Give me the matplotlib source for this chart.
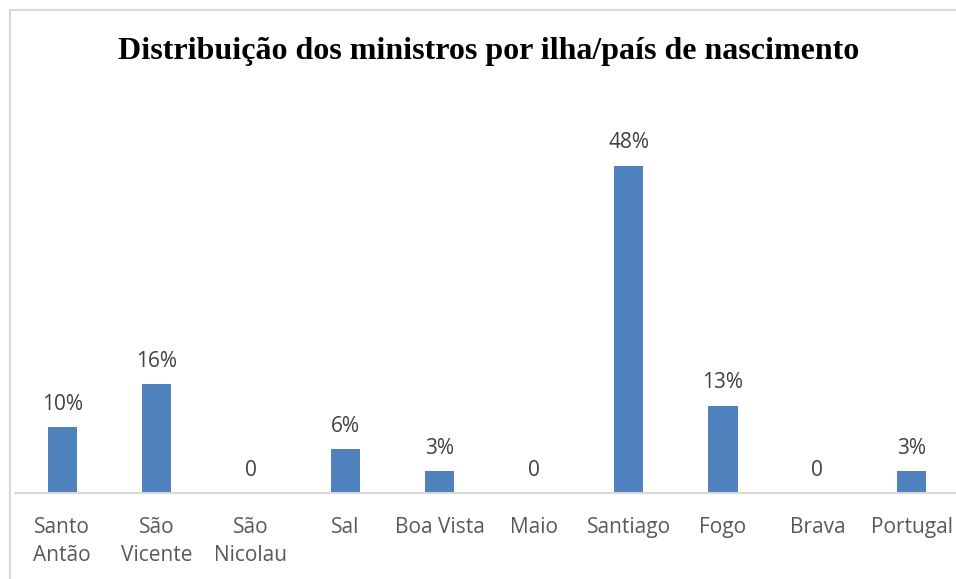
import matplotlib
matplotlib.use("Agg")
import matplotlib.pyplot as plt
from matplotlib.patches import Rectangle

categories = ["Santo\nAntão", "São\nVicente", "São\nNicolau", "Sal", "Boa Vista",
              "Maio", "Santiago", "Fogo", "Brava", "Portugal"]
values = [9.7, 16.1, 0, 6.5, 3.2, 0, 48.4, 12.9, 0, 3.2]
value_labels = ["10%", "16%", "0", "6%", "3%", "0", "48%", "13%", "0", "3%"]
title = "Distribuição dos ministros por ilha/país de nascimento"

W, H = 956, 579
fig = plt.figure(figsize=(W / 100, H / 100), dpi=100)
fig.patch.set_facecolor("white")

# outer border (cropped at right/bottom)
fig.patches.append(Rectangle((10 / W, -0.05), 1.2, 1 - 10 / H + 0.05,
                             transform=fig.transFigure, fill=False,
                             edgecolor="#D9D9D9", linewidth=1.5))

ax_left, ax_right = 15, 959
ax_bottom, ax_top = 493, 91
ax = fig.add_axes([ax_left / W, 1 - ax_bottom / H,
                   (ax_right - ax_left) / W, (ax_bottom - ax_top) / H])
x = list(range(len(categories)))
ax.bar(x, values, width=0.31, color="#4F81BD")
ax.set_xlim(-0.5, len(categories) - 0.5)
ax.set_ylim(0, 59.5)
for s in ["top", "right", "left"]:
    ax.spines[s].set_visible(False)
ax.spines["bottom"].set_color("#D9D9D9")
ax.spines["bottom"].set_linewidth(1.5)
ax.set_yticks([])
ax.set_xticks(x)
ax.set_xticklabels(categories, fontsize=15, color="#595959", family="Open Sans",
                   linespacing=1.45)
ax.tick_params(axis="x", length=0, pad=17)
for xi, v, lab in zip(x, values, value_labels):
    ax.annotate(lab, (xi, v), xytext=(0, 9), textcoords="offset points",
                ha="center", va="bottom", fontsize=15, color="#404040",
                family="Open Sans")
ax.patch.set_visible(False)

fig.text(489 / W, 1 - 51 / H, title, ha="center", va="center",
         fontsize=23, fontweight="bold", family="Liberation Serif", color="black")

fig.savefig("out.png", dpi=100)
